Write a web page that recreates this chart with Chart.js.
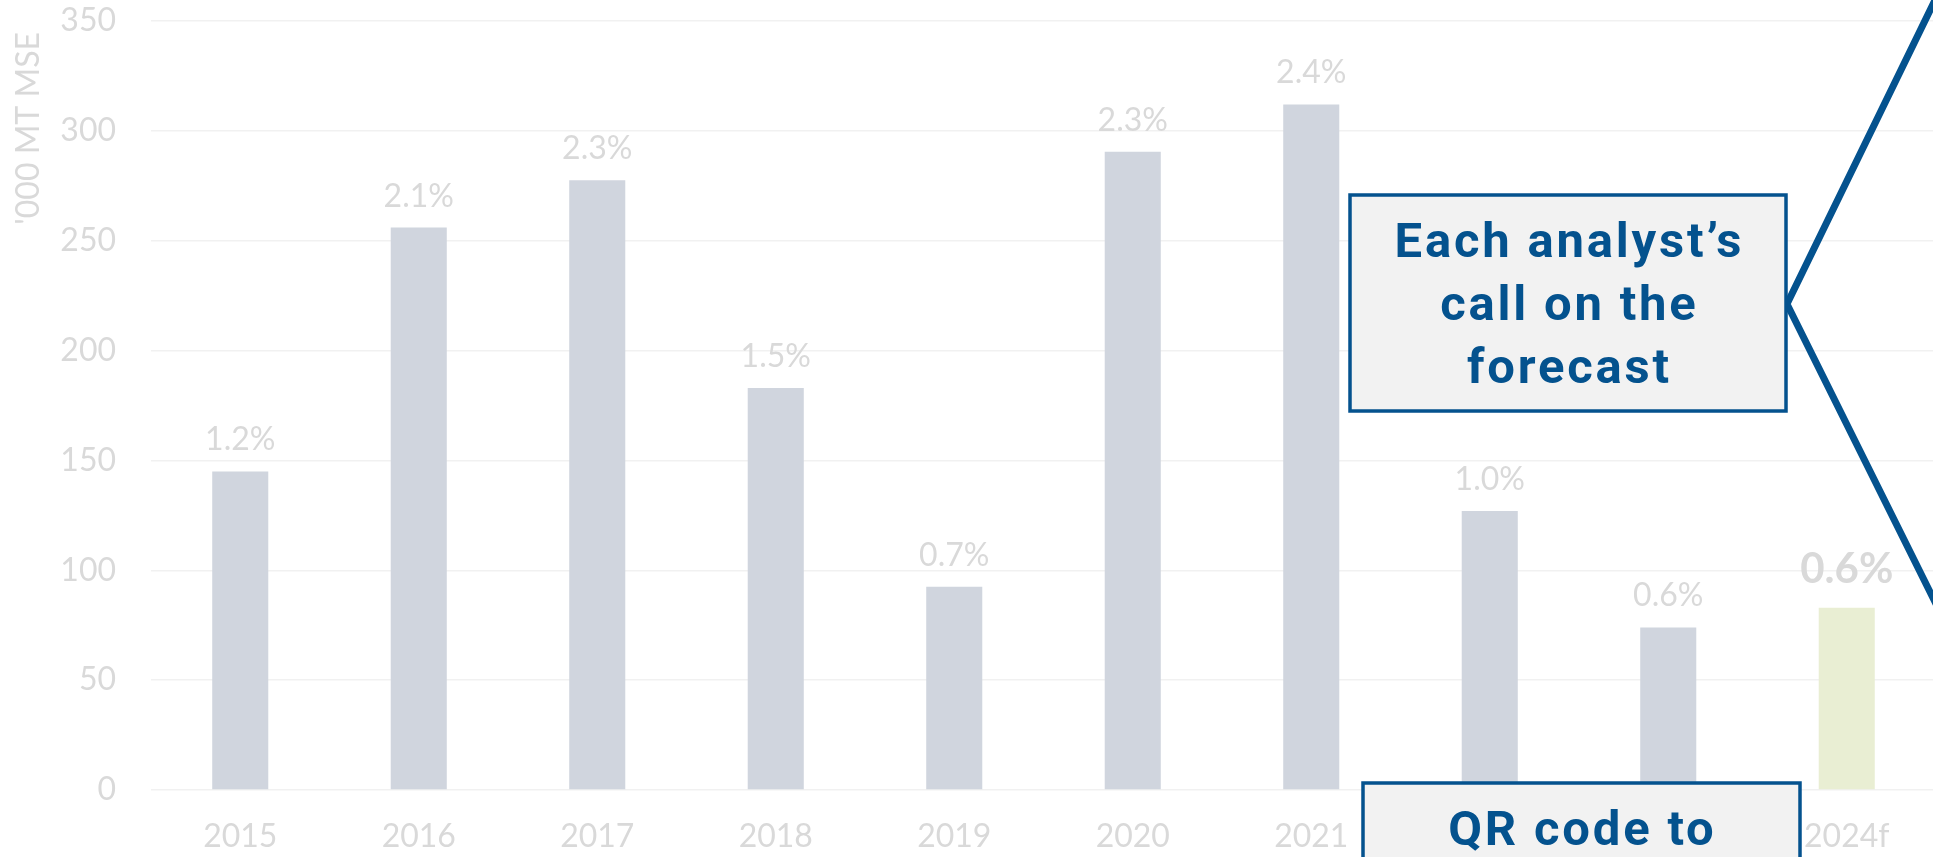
<!DOCTYPE html>
<html>
<head>
<meta charset="utf-8">
<script src="https://cdn.jsdelivr.net/npm/chart.js@4"></script>
<style>
    html, body { margin: 0; padding: 0; background: #ffffff; overflow: hidden; }
    #wrap { width: 1933px; height: 857px; overflow: hidden; }
    canvas { display: block; }
</style>
</head>
<body>
<div id="wrap"><canvas id="volumeChart" width="1940" height="857"></canvas></div>
<script>
// Yearly volumes ('000 MT MSE) with growth labels above each bar
const years = ['2015', '2016', '2017', '2018', '2019', '2020', '2021', '2022', '2023', '2024f'];
const volumes = [145, 256, 277.5, 183, 92.5, 290.5, 312, 127, 74, 83];
const growthLabels = ['1.2%', '2.1%', '2.3%', '1.5%', '0.7%', '2.3%', '2.4%', '1.0%', '0.6%', '0.6%'];
const yMin = 0;
const yMax = 350;
const yStep = 50;
const axisTitle = "'000 MT MSE";
const calloutLines = ['Each analyst\u2019s', 'call on the', 'forecast'];
const qrLines = ['QR code to'];

const barColor = '#d0d5de';
const forecastColor = '#e9eed3';
const labelGrey = '#d9d9d9';
const calloutBlue = '#04528e';

// growth labels above bars, forecast one is bold
const barLabels = {
    id: 'barLabels',
    afterDatasetsDraw(chart) {
        const ctx = chart.ctx;
        const meta = chart.getDatasetMeta(0);
        ctx.save();
        ctx.fillStyle = labelGrey;
        ctx.textAlign = 'center';
        ctx.textBaseline = 'alphabetic';
        meta.data.forEach((bar, i) => {
            const isForecast = years[i].endsWith('f');
            ctx.font = isForecast ? 'bold 42px Lato' : '32px Lato';
            ctx.fillText(growthLabels[i], bar.x, bar.y - (isForecast ? 25 : 21));
        });
        ctx.restore();
    }
};

// axis title, callout boxes and connector lines
const annotations = {
    id: 'annotations',
    afterDraw(chart) {
        const ctx = chart.ctx;
        ctx.save();

        // y axis title, reading upwards, near the top
        ctx.translate(29, 32);
        ctx.rotate(-Math.PI / 2);
        ctx.font = '32px Lato';
        ctx.fillStyle = labelGrey;
        ctx.textAlign = 'right';
        ctx.textBaseline = 'middle';
        ctx.fillText(axisTitle, 0, 0);
        ctx.setTransform(1, 0, 0, 1, 0, 0);

        // connector lines
        ctx.strokeStyle = calloutBlue;
        ctx.lineWidth = 7;
        ctx.lineJoin = 'miter';
        ctx.beginPath();
        ctx.moveTo(1937, -4);
        ctx.lineTo(1787, 304);
        ctx.lineTo(1937, 606);
        ctx.stroke();

        // main callout
        drawBox(ctx, 1350, 195, 436, 216, calloutLines, 1568, 257);
        // QR box, runs off the bottom
        drawBox(ctx, 1363, 783, 437, 120, qrLines, 1581, 845);

        ctx.restore();
    }
};

function drawBox(ctx, x, y, w, h, lines, cx, firstBaseline) {
    ctx.fillStyle = '#f2f2f2';
    ctx.fillRect(x, y, w, h);
    ctx.strokeStyle = calloutBlue;
    ctx.lineWidth = 3.5;
    ctx.strokeRect(x, y, w, h);
    ctx.fillStyle = calloutBlue;
    ctx.font = 'bold 49px Roboto';
    ctx.letterSpacing = '2.8px';
    ctx.textAlign = 'center';
    ctx.textBaseline = 'alphabetic';
    lines.forEach((line, i) => {
        ctx.fillText(line, cx + 1.4, firstBaseline + i * 63);
    });
    ctx.letterSpacing = '0px';
}

const ctx = document.getElementById('volumeChart').getContext('2d');
const volumeChart = new Chart(ctx, {
    type: 'bar',
    data: {
        labels: years,
        datasets: [{
            data: volumes,
            backgroundColor: years.map(y => y.endsWith('f') ? forecastColor : barColor),
            borderWidth: 0,
            categoryPercentage: 1.0,
            barPercentage: 0.314
        }]
    },
    options: {
        responsive: false,
        animation: false,
        layout: {
            padding: { top: 21, right: 4, bottom: 0, left: 0 }
        },
        plugins: {
            legend: { display: false },
            tooltip: { enabled: false }
        },
        scales: {
            x: {
                afterFit(scale) {
                    scale.height = 67;
                    scale.paddingLeft = 0;
                    scale.paddingRight = 0;
                },
                grid: { display: false },
                border: { display: false },
                ticks: {
                    color: labelGrey,
                    padding: 19,
                    maxRotation: 0,
                    font: { family: 'Lato', size: 32 }
                }
            },
            y: {
                min: yMin,
                max: yMax,
                afterFit(scale) {
                    scale.width = 151;
                    scale.paddingTop = 0;
                    scale.paddingBottom = 0;
                },
                grid: {
                    color: '#f1f1f1',
                    lineWidth: 1.5,
                    drawTicks: false
                },
                border: { display: false },
                ticks: {
                    stepSize: yStep,
                    color: labelGrey,
                    padding: 35,
                    font: { family: 'Lato', size: 32 }
                }
            }
        }
    },
    plugins: [barLabels, annotations]
});
</script>
</body>
</html>
